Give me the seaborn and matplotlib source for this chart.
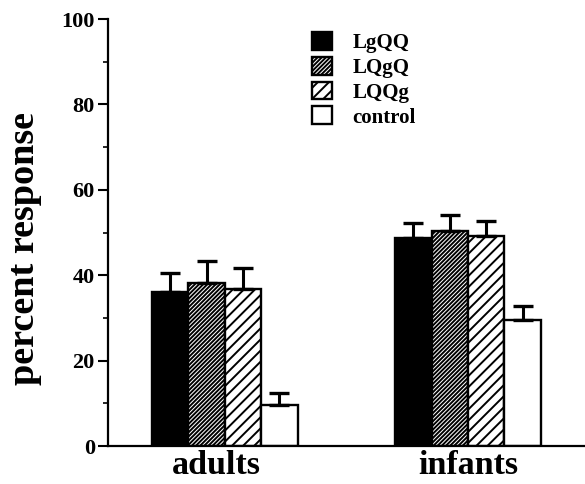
import matplotlib
matplotlib.use('Agg')
import matplotlib.pyplot as plt
import seaborn as sns
import pandas as pd
from matplotlib.patches import Patch
from matplotlib.ticker import MultipleLocator
from matplotlib.transforms import ScaledTranslation

# ---- data ----
groups = ['adults', 'infants']
conditions = ['LgQQ', 'LQgQ', 'LQQg', 'control']
lgqq = [36.0, 48.7]
lqgq = [38.2, 50.4]
lqqg = [36.8, 49.2]
control = [9.5, 29.5]
lgqq_err = [4.5, 3.5]
lqgq_err = [5.1, 3.6]
lqqg_err = [4.9, 3.4]
control_err = [2.8, 3.4]
yticks = [0, 20, 40, 60, 80, 100]

colors = ['black', 'white', 'white', 'white']
hatches = [None, '////////', '///', None]

sns.set_style('ticks')
plt.rcParams['font.family'] = ['Liberation Serif', 'DejaVu Serif']
plt.rcParams['font.weight'] = 'bold'
plt.rcParams['text.color'] = 'black'
plt.rcParams['xtick.color'] = 'black'
plt.rcParams['ytick.color'] = 'black'
plt.rcParams['axes.labelcolor'] = 'black'
plt.rcParams['hatch.linewidth'] = 1.4
plt.rcParams['hatch.color'] = 'black'

rows = []
for cond, vals in zip(conditions, [lgqq, lqgq, lqqg, control]):
    for g, v in zip(groups, vals):
        rows.append({'group': g, 'condition': cond, 'value': v})
df = pd.DataFrame(rows)
errs = [lgqq_err, lqgq_err, lqqg_err, control_err]

fig = plt.figure(figsize=(5.85, 4.84), dpi=100)
ax = fig.add_axes([0.1846, 0.0785, 0.815, 0.882])

sns.barplot(data=df, x='group', y='value', hue='condition', order=groups,
            hue_order=conditions, palette=colors, edgecolor='black',
            linewidth=1.7, width=0.6, gap=0, errorbar=None, legend=False,
            saturation=1, ax=ax)

bar_containers = list(ax.containers)
for ci, cont in enumerate(bar_containers):
    for bi, bar in enumerate(cont):
        if hatches[ci]:
            bar.set_hatch(hatches[ci])
        x = bar.get_x() + bar.get_width() / 2
        y = bar.get_height()
        ax.errorbar([x], [y], yerr=[[0], [errs[ci][bi]]], color='black',
                    capsize=7, capthick=2.4, elinewidth=2.2, zorder=1)

ax.set_xlim(-0.48, 1.48)
ax.set_ylim(0, 100)
ax.set_yticks(yticks)
ax.yaxis.set_minor_locator(MultipleLocator(10))
ax.tick_params(axis='y', which='major', length=7.5, width=1.5, labelsize=16, pad=2)
ax.tick_params(axis='y', which='minor', length=3.5, width=1.2)
ax.tick_params(axis='x', length=0, labelsize=24.5, pad=3)
for lab in ax.get_xticklabels() + ax.get_yticklabels():
    lab.set_fontweight('bold')
    lab.set_color('black')
xl = ax.get_xticklabels()
xl[0].set_transform(xl[0].get_transform() + ScaledTranslation(-0.08, 0, fig.dpi_scale_trans))
ax.set_xlabel('')
ax.set_ylabel('percent response', fontsize=27.5, fontweight='bold', color='black')
ax.yaxis.set_label_coords(-0.138, 0.463)
sns.despine(ax=ax)
for s in ['left', 'bottom']:
    ax.spines[s].set_linewidth(1.6)
    ax.spines[s].set_color('black')

handles = [Patch(facecolor=c, edgecolor='black', hatch=h, linewidth=1.7, label=l)
           for c, h, l in zip(colors, hatches, conditions)]
ax.legend(handles=handles, loc='upper left', bbox_to_anchor=(0.41, 0.99),
          frameon=False, handlelength=0.95, handleheight=0.95,
          labelspacing=0.18, handletextpad=1.0, borderaxespad=0,
          prop={'weight': 'bold', 'size': 15})

fig.savefig('out.png', dpi=100)
